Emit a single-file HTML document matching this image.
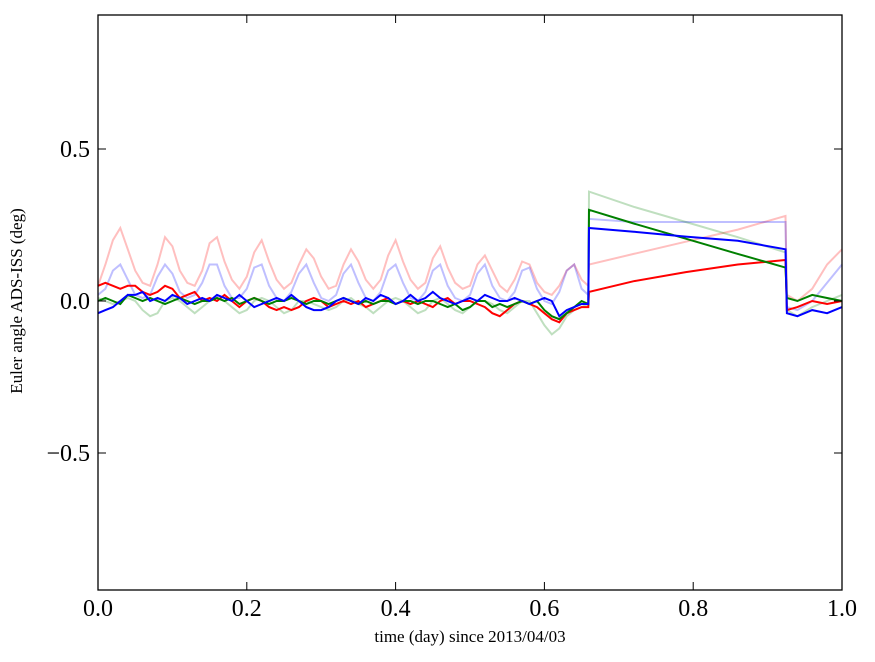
<!DOCTYPE html>
<html><head><meta charset="utf-8"><style>
html,body{margin:0;padding:0;background:#fff}
svg{display:block;font-family:"Liberation Serif",serif}
</style></head><body>
<svg id="chart" width="875" height="662" viewBox="0 0 875 662">
<rect x="0" y="0" width="875" height="662" fill="#fff"/>
<g id="series"></g>
<g id="axes"></g>
<text x="22" y="301" transform="rotate(-90 22 301)" text-anchor="middle" font-size="17">Euler angle ADS-ISS (deg)</text>
<text x="470" y="642" text-anchor="middle" font-size="17">time (day) since 2013/04/03</text>
</svg>
<script>
const xs=[0,.01,.02,.03,.04,.05,.06,.07,.08,.09,.10,.11,.12,.13,.14,.15,.16,.17,.18,.19,.20,.21,.22,.23,.24,.25,.26,.27,.28,.29,.30,.31,.32,.33,.34,.35,.36,.37,.38,.39,.40,.41,.42,.43,.44,.45,.46,.47,.48,.49,.50,.51,.52,.53,.54,.55,.56,.57,.58,.59,.60,.61,.62,.63,.64,.65,.659,.66,.72,.79,.86,.924,.926,.94,.96,.98,1.0];
const pinkLight=[.05,.12,.20,.24,.17,.10,.06,.05,.12,.21,.18,.10,.06,.05,.10,.19,.21,.13,.07,.04,.08,.16,.20,.13,.07,.04,.06,.12,.17,.14,.08,.04,.05,.12,.17,.13,.07,.04,.07,.15,.20,.13,.07,.04,.06,.14,.18,.11,.06,.04,.05,.12,.15,.10,.05,.03,.07,.13,.12,.06,.03,.02,.05,.10,.12,.07,.05,.12,.155,.195,.235,.28,.02,.0,.04,.12,.17];
const blueLight=[.02,.04,.10,.12,.07,.02,.01,.02,.08,.12,.09,.03,.01,.02,.06,.12,.12,.05,.01,.01,.04,.11,.12,.05,.01,.0,.03,.09,.12,.06,.01,.0,.02,.09,.12,.06,.01,.0,.03,.10,.12,.06,.01,.0,.03,.10,.12,.05,.01,.0,.02,.09,.12,.05,.01,.0,.03,.10,.11,.04,.0,-.01,.03,.10,.12,.04,.02,.27,.26,.26,.26,.26,-.02,-.03,.0,.06,.12];
const greenLight=[.01,.0,-.01,.0,.01,.0,-.03,-.05,-.04,.0,.01,.0,-.02,-.04,-.02,.0,.01,.0,-.02,-.04,-.03,.0,.01,.0,-.02,-.04,-.03,.0,.0,-.01,-.02,-.03,-.02,.0,.01,-.01,-.02,-.04,-.02,.0,.01,.0,-.02,-.04,-.03,.0,.01,-.01,-.03,-.04,-.02,.0,.0,-.01,-.03,-.04,-.02,.0,.0,-.04,-.08,-.11,-.09,-.05,-.03,-.02,-.01,.36,.31,.26,.21,.16,-.03,-.05,-.02,.0,.02];
const redDark=[.05,.06,.05,.04,.05,.05,.03,.02,.03,.05,.04,.01,.02,.03,.0,.01,.0,.02,.0,-.02,.0,.01,.0,-.02,-.03,-.02,-.03,-.02,.0,.01,.0,-.02,-.01,.0,-.01,.0,-.02,-.01,.0,.01,-.01,.0,-.01,.0,-.01,-.02,.0,.01,-.01,.0,.0,-.01,-.02,-.04,-.05,-.03,-.01,.0,-.01,-.02,-.04,-.06,-.07,-.04,-.03,-.02,-.02,.03,.065,.095,.12,.135,-.03,-.02,.0,-.01,.0];
const greenDark=[.0,.01,.0,-.01,.02,.01,.0,.01,.0,-.01,.0,.01,.0,-.01,.0,.0,.01,.0,.01,-.01,.0,.01,.0,-.01,.0,.0,.01,.0,-.01,.0,.0,-.01,.0,.01,.0,-.01,.0,-.01,.0,.0,-.01,.0,.0,-.01,.0,.0,-.01,-.02,-.01,-.03,-.02,.0,.0,-.02,-.01,-.02,-.01,.0,-.01,.0,-.03,-.05,-.06,-.04,-.02,.0,-.01,.30,.255,.205,.155,.11,.01,.0,.02,.01,.0];
const blueDark=[-.04,-.03,-.02,.0,.02,.02,.03,.0,.01,.0,.02,.01,-.01,.0,.01,.0,.02,.01,.0,.02,.0,-.02,-.01,.0,.01,.0,.02,.0,-.02,-.03,-.03,-.02,.0,.01,.0,-.01,.01,.0,.02,.01,-.01,.0,.02,.0,.01,.03,.01,.0,-.01,.0,.01,.0,.02,.01,.0,.0,.01,.0,-.01,.0,.01,.0,-.05,-.03,-.02,-.01,-.01,.24,.228,.212,.198,.17,-.04,-.05,-.03,-.04,-.02];
const seriesList=[[pinkLight,'rgba(255,0,0,0.25)','pink-light-line'],[blueLight,'rgba(0,0,255,0.25)','blue-light-line'],[greenLight,'rgba(0,128,0,0.25)','green-light-line'],[redDark,'#ff0000','red-line'],[greenDark,'#008000','green-line'],[blueDark,'#0000ff','blue-line']];
const xTicks=[0,0.2,0.4,0.6,0.8,1.0];
const xTickLabels=['0.0','0.2','0.4','0.6','0.8','1.0'];
const yTicks=[0.5,0,-0.5];
const yTickLabels=['0.5','0.0','\u22120.5'];
const L=98,R=842,T=15,B=590;
const sx=v=>L+(R-L)*v;
const sy=v=>301-304*v;
const NS='http://www.w3.org/2000/svg';
const sg=document.getElementById('series'),ag=document.getElementById('axes');
seriesList.forEach(s=>{
 const p=document.createElementNS(NS,'polyline');
 p.setAttribute('points',s[0].map((v,i)=>sx(xs[i]).toFixed(1)+','+sy(v).toFixed(1)).join(' '));
 p.setAttribute('fill','none');p.setAttribute('stroke',s[1]);p.setAttribute('stroke-width','2');
 
 
 sg.appendChild(p);
});
const fr=document.createElementNS(NS,'rect');
fr.setAttribute('x',L);fr.setAttribute('y',T);fr.setAttribute('width',R-L);fr.setAttribute('height',B-T);
fr.setAttribute('fill','none');fr.setAttribute('stroke','#000');fr.setAttribute('stroke-width','1.3');


ag.appendChild(fr);
function line(x1,y1,x2,y2,n){const l=document.createElementNS(NS,'line');l.setAttribute('x1',x1);l.setAttribute('y1',y1);l.setAttribute('x2',x2);l.setAttribute('y2',y2);l.setAttribute('stroke','#000');l.setAttribute('stroke-width','1');


ag.appendChild(l);}
function txt(x,y,s,a,n){const t=document.createElementNS(NS,'text');t.setAttribute('x',x);t.setAttribute('y',y);t.setAttribute('text-anchor',a);t.setAttribute('font-size','24');t.textContent=s;


ag.appendChild(t);}
xTicks.forEach((v,i)=>{const x=sx(v);line(x,B,x,B-8,'x-tick');line(x,T,x,T+8,'x-tick-top');txt(x,616,xTickLabels[i],'middle','x-tick-label');});
yTicks.forEach((v,i)=>{const y=sy(v);line(L,y,L+8,y,'y-tick');line(R,y,R-8,y,'y-tick-right');txt(L-8,y+8,yTickLabels[i],'end','y-tick-label');});
</script>
</body></html>
